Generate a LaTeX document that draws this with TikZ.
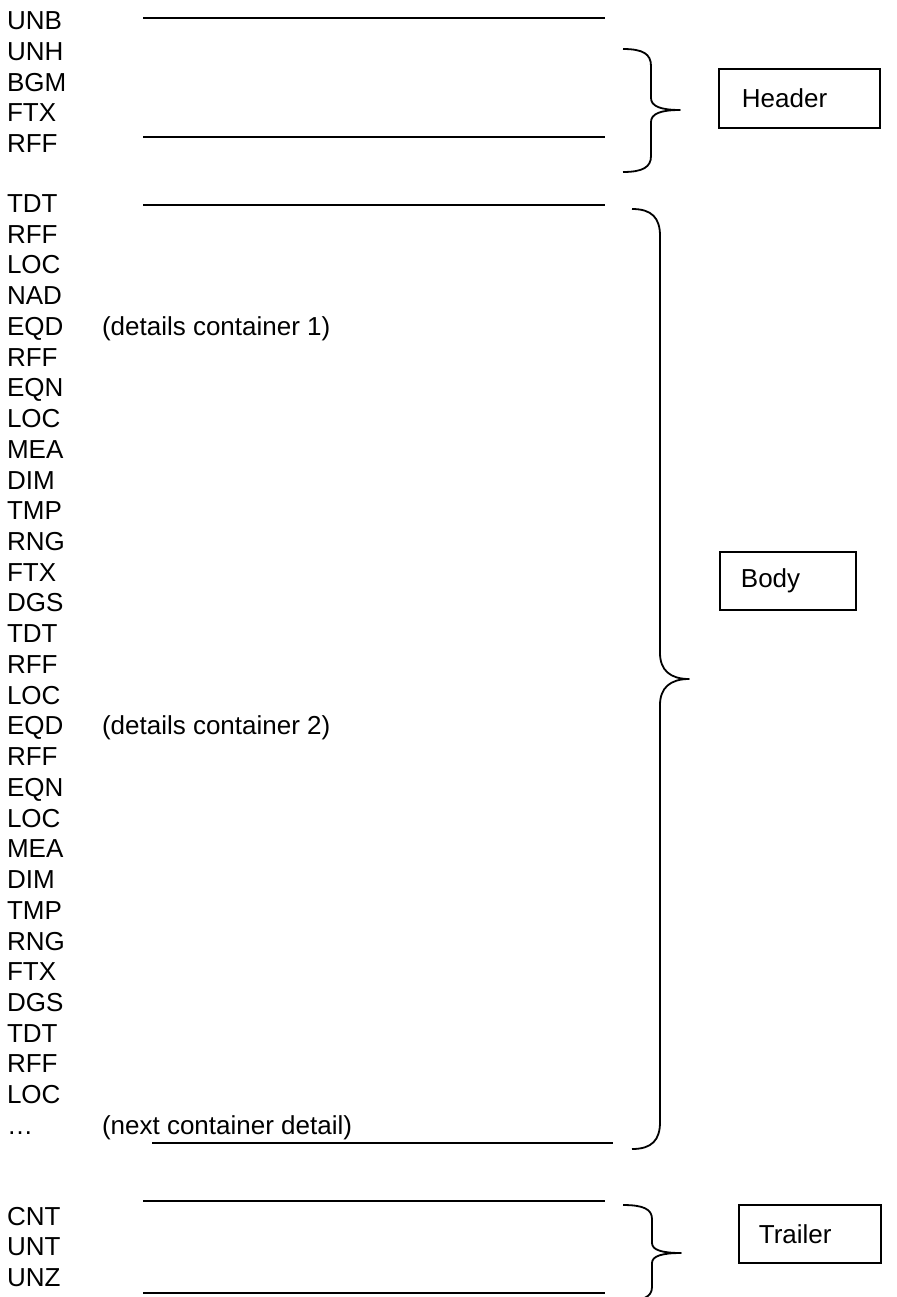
\documentclass[tikz,border=0pt]{standalone}
\usepackage{fontspec}
\setmainfont{Liberation Sans}
\begin{document}
\begin{tikzpicture}[x=1pt,y=-1pt,
  seg/.style={font=\fontsize{26}{31}\selectfont, anchor=base west, inner sep=0pt, outer sep=0pt},
  rule/.style={line width=2pt},
  bracepath/.style={line width=1.8pt, line join=round},
  tagbox/.style={draw, line width=1.8pt, anchor=north west, align=left,
    font=\fontsize{26}{31}\selectfont, inner ysep=0pt}]
\useasboundingbox (0,0) rectangle (896,1297);

% header rows
\foreach \t [count=\i] in {UNB,UNH,BGM,FTX,RFF}
  \node[seg] (h\i) at (7,{30+(\i-1)*30.6}) {\t};

% body rows
\foreach \t [count=\i] in {TDT,RFF,LOC,NAD,EQD,RFF,EQN,LOC,MEA,DIM,TMP,RNG,FTX,DGS,TDT,RFF,LOC,EQD,RFF,EQN,LOC,MEA,DIM,TMP,RNG,FTX,DGS,TDT,RFF,LOC,…}
  \node[seg] (b\i) at (7,{212.5+(\i-1)*30.73}) {\t};

\node[seg] (c1) at (102,{212.5+4*30.73}) {(details container 1)};
\node[seg] (c2) at (102,{212.5+17*30.73}) {(details container 2)};
\node[seg] (cn) at (102,{212.5+30*30.73}) {(next container detail)};

% trailer rows
\foreach \t [count=\i] in {CNT,UNT,UNZ}
  \node[seg] (t\i) at (7,{1225.5+(\i-1)*30.3}) {\t};

% rules
\coordinate (r1a) at (143,17.7);  \coordinate (r1b) at (605,17.7);
\coordinate (r2a) at (143,137.5); \coordinate (r2b) at (605,137.5);
\coordinate (r3a) at (143,205);   \coordinate (r3b) at (605,205);
\coordinate (r4a) at (152,1143);  \coordinate (r4b) at (613,1143);
\coordinate (r5a) at (143,1201);  \coordinate (r5b) at (605,1201);
\coordinate (r6a) at (143,1293);  \coordinate (r6b) at (605,1293);
\foreach \k in {1,...,6} \draw[rule] (r\k a) -- (r\k b);

% braces
\draw[bracepath] (623,49) .. controls (643,49) and (651,54) .. (651,66) -- (651,98)
  .. controls (651,106) and (660,110) .. (680,110)
  .. controls (660,110) and (651,114) .. (651,122) -- (651,156)
  .. controls (651,167) and (643,172) .. (623,172);
\draw[bracepath] (632,209) .. controls (652,209) and (660,218) .. (660,236) -- (660,653)
  .. controls (660,670) and (670,679) .. (689,679)
  .. controls (670,679) and (660,688) .. (660,705) -- (660,1122)
  .. controls (660,1140) and (652,1149) .. (632,1149);
\draw[bracepath] (623,1205) .. controls (643,1205) and (652,1209) .. (652,1219) -- (652,1243)
  .. controls (652,1250) and (662,1253) .. (681,1253)
  .. controls (662,1253) and (652,1256) .. (652,1263) -- (652,1287)
  .. controls (652,1297) and (643,1301) .. (623,1301);

% boxes
\node[tagbox, minimum width=161pt, minimum height=59pt, inner xsep=23pt, text width=115pt] (hdr) at (718,68) {Header};
\node[tagbox, minimum width=136pt, minimum height=58pt, inner xsep=21pt, text width=94pt] (bdy) at (719,551) {Body};
\node[tagbox, minimum width=142pt, minimum height=58pt, inner xsep=20pt, text width=102pt] (trl) at (738,1204) {Trailer};
\end{tikzpicture}
\end{document}
